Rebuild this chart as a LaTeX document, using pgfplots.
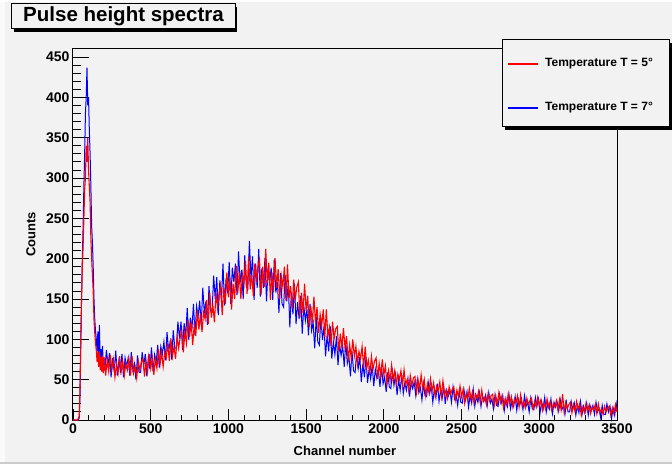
\documentclass[border=0pt]{standalone}
\usepackage{fontspec}
\setmainfont{Liberation Sans}
\usepackage{pgfplots}
\pgfplotsset{compat=1.18}
\definecolor{bg}{RGB}{242,242,242}
\definecolor{rootred}{RGB}{255,0,0}
\definecolor{rootblue}{RGB}{0,0,255}
\begin{document}
\begin{tikzpicture}[x=1pt,y=1pt]
\useasboundingbox (-73,-44) rectangle (599,420);
\fill[bg] (-73,-44) rectangle (599,420);
% canvas bevel
\fill[white!60!bg] (-73,-44) rectangle (-68,420);
\fill[white] (-73,418) rectangle (599,420);
\fill[black!20] (-73,-44) rectangle (599,-42);
% title box
\fill[black] (-59,388) rectangle (164,413);
\filldraw[fill=bg,draw=black,line width=1pt] (-61,391) rectangle (162,416);
\node[font=\fontsize{20.5}{24}\selectfont\bfseries] at (50.5,403.5) {Pulse height spectra};
\begin{axis}[
  at={(0,0)}, anchor=south west,
  scale only axis, width=544pt, height=371pt,
  xmin=0, xmax=3500, ymin=0, ymax=460,
  clip=false,
  xtick={0,500,...,3500}, ytick={0,50,...,450},
  minor x tick num=4, minor y tick num=4,
  tick align=inside, tick pos=left,
  xtick style={black, line width=0.9pt, /pgfplots/major tick length=11pt, /pgfplots/minor tick length=5.5pt},
  ytick style={black, line width=0.9pt, /pgfplots/major tick length=16pt, /pgfplots/minor tick length=8pt},
  axis line style={black, line width=1pt},
  /pgf/number format/assume math mode=true,
  /pgf/number format/1000 sep={},
  tick label style={font=\fontsize{14}{16}\selectfont\bfseries},
  xlabel={Channel number}, ylabel={Counts},
  every axis x label/.style={at={(axis description cs:0.5,-0.0836)}, anchor=center, font=\fontsize{13}{15}\selectfont\bfseries},
  every axis y label/.style={at={(axis description cs:-0.0772,0.5)}, anchor=center, rotate=90, font=\fontsize{13}{15}\selectfont\bfseries},
]
\addplot[rootblue, line width=1pt] coordinates {
(0,0) (10,0) (20,0) (30,0) (40,2) (45,30) (50,90) (55,150) (60,200) (65,240) (70,290) (75,330) (80,380) (85,400) (90,437) (95,390) (100,400) (105,360) (110,330) (115,290) (120,240) (125,220) (130,190) (135,150) (140,125) (145,110) (150,100) (155,85) (160,110) (165,78) (170,118) (175,72) (180,88) (185,70) (190,92) (195,66)
(205,62) (215,87) (225,68) (235,83) (245,53) (255,77) (265,60) (275,86) (285,55) (295,73)
(305,61) (315,82) (325,53) (335,77) (345,66) (355,77) (365,55) (375,84) (385,62) (395,70)
(405,50) (415,80) (425,59) (435,59) (445,84) (455,67) (465,82) (475,54) (485,78) (495,63)
(505,90) (515,60) (525,81) (535,71) (545,93) (555,65) (565,91) (575,82) (585,97) (595,74)
(605,109) (615,85) (625,97) (635,75) (645,111) (655,89) (665,89) (675,122) (685,101) (695,122)
(705,87) (715,120) (725,103) (735,139) (745,99) (755,127) (765,112) (775,144) (785,105) (795,141)
(805,128) (815,148) (825,118) (835,164) (845,132) (855,147) (865,118) (875,166) (885,135) (895,135)
(905,179) (915,150) (925,177) (935,130) (945,173) (955,148) (965,194) (975,142) (985,176) (995,157)
(1005,196) (1015,144) (1025,189) (1035,171) (1045,194) (1055,155) (1065,209) (1075,170) (1085,186) (1095,150)
(1105,204) (1115,166) (1125,163) (1135,222) (1145,175) (1155,203) (1165,149) (1175,194) (1185,164) (1195,212)
(1205,153) (1215,188) (1225,164) (1235,201) (1245,147) (1255,189) (1265,169) (1275,189) (1285,149) (1295,199)
(1305,158) (1315,171) (1325,133) (1335,182) (1345,144) (1355,140) (1365,180) (1375,147) (1385,170) (1395,115)
(1405,158) (1415,131) (1425,169) (1435,119) (1445,146) (1455,125) (1465,154) (1475,107) (1485,142) (1495,123)
(1505,138) (1515,105) (1525,144) (1535,111) (1545,121) (1555,89) (1565,128) (1575,97) (1585,93) (1595,127)
(1605,99) (1615,116) (1625,79) (1635,106) (1645,85) (1655,116) (1665,76) (1675,97) (1685,81) (1695,104)
(1705,68) (1715,94) (1725,80) (1735,92) (1745,66) (1755,97) (1765,70) (1775,79) (1785,54) (1795,85)
(1805,61) (1815,59) (1825,83) (1835,64) (1845,78) (1855,47) (1865,70) (1875,53) (1885,78) (1895,46)
(1905,63) (1915,51) (1925,68) (1935,42) (1945,63) (1955,52) (1965,62) (1975,41) (1985,66) (1995,45)
(2005,53) (2015,35) (2025,59) (2035,41) (2045,39) (2055,60) (2065,43) (2075,56) (2085,31) (2095,50)
(2105,37) (2115,56) (2125,33) (2135,46) (2145,37) (2155,51) (2165,29) (2175,47) (2185,39) (2195,47)
(2205,31) (2215,50) (2225,34) (2235,40) (2245,25) (2255,45) (2265,30) (2275,29) (2285,47) (2295,33)
(2305,43) (2315,22) (2325,39) (2335,28) (2345,45) (2355,23) (2365,37) (2375,27) (2385,42) (2395,20)
(2405,37) (2415,30) (2425,37) (2435,22) (2445,41) (2455,26) (2465,31) (2475,18) (2485,36) (2495,22)
(2505,21) (2515,38) (2525,25) (2535,35) (2545,16) (2555,31) (2565,21) (2575,38) (2585,17) (2595,29)
(2605,22) (2615,34) (2625,17) (2635,30) (2645,24) (2655,31) (2665,18) (2675,34) (2685,21) (2695,26)
(2705,14) (2715,31) (2725,18) (2735,17) (2745,32) (2755,21) (2765,30) (2775,12) (2785,26) (2795,17)
(2805,32) (2815,14) (2825,24) (2835,17) (2845,29) (2855,12) (2865,26) (2875,19) (2885,26) (2895,13)
(2905,30) (2915,17) (2925,22) (2935,10) (2945,27) (2955,14) (2965,13) (2975,28) (2985,17) (2995,26)
(3005,9) (3015,23) (3025,14) (3035,28) (3045,10) (3055,21) (3065,14) (3075,26) (3085,8) (3095,22)
(3105,16) (3115,22) (3125,11) (3135,25) (3145,13) (3155,18) (3165,7) (3175,22) (3185,10) (3195,10)
(3205,23) (3215,13) (3225,21) (3235,6) (3245,18) (3255,9) (3265,23) (3275,7) (3285,17) (3295,10)
(3305,21) (3315,6) (3325,19) (3335,12) (3345,18) (3355,7) (3365,22) (3375,10) (3385,14) (3395,3)
(3405,18) (3415,7) (3425,7) (3435,20) (3445,10) (3455,17) (3465,2) (3475,15) (3485,6) (3495,20) (3500,12)
};

\addplot[rootred, line width=1.1pt] coordinates {
(0,0) (10,0) (20,0) (30,0) (40,5) (45,40) (50,100) (55,150) (60,190) (65,215) (70,250) (75,285) (80,300) (85,340) (90,320) (95,350) (100,310) (105,290) (110,270) (115,225) (120,200) (125,180) (130,160) (135,125) (140,108) (145,95) (150,86) (155,72) (160,84) (165,66) (170,85) (175,62) (180,78) (185,60) (190,80) (195,58)
(200,78) (210,55) (220,74) (230,60) (240,81) (250,63) (260,75) (270,53) (280,69) (290,58)
(300,79) (310,60) (320,73) (330,55) (340,70) (350,62) (360,76) (370,55) (380,79) (390,58)
(400,66) (410,52) (420,73) (430,62) (440,72) (450,76) (460,54) (470,73) (480,60) (490,82)
(500,64) (510,77) (520,56) (530,75) (540,64) (550,88) (560,69) (570,84) (580,66) (590,84)
(600,77) (610,95) (620,73) (630,101) (640,79) (650,91) (660,76) (670,103) (680,89) (690,103)
(700,111) (710,84) (720,109) (730,95) (740,124) (750,103) (760,121) (770,93) (780,118) (790,104)
(800,136) (810,112) (820,132) (830,109) (840,133) (850,125) (860,149) (870,119) (880,158) (890,127)
(900,142) (910,121) (920,158) (930,139) (940,157) (950,167) (960,130) (970,164) (980,144) (990,183)
(1000,152) (1010,176) (1020,137) (1030,169) (1040,150) (1050,191) (1060,157) (1070,183) (1080,150) (1090,181)
(1100,169) (1110,197) (1120,156) (1130,203) (1140,162) (1150,180) (1160,154) (1170,194) (1180,171) (1190,190)
(1200,199) (1210,155) (1220,190) (1230,165) (1240,212) (1250,170) (1260,195) (1270,149) (1280,183) (1290,159)
(1300,201) (1310,164) (1320,187) (1330,150) (1340,179) (1350,165) (1360,190) (1370,148) (1380,193) (1390,151)
(1400,166) (1410,138) (1420,174) (1430,149) (1440,165) (1450,171) (1460,127) (1470,158) (1480,133) (1490,169)
(1500,135) (1510,154) (1520,115) (1530,141) (1540,120) (1550,153) (1560,121) (1570,140) (1580,108) (1590,131)
(1600,117) (1610,137) (1620,103) (1630,137) (1640,103) (1650,115) (1660,92) (1670,122) (1680,101) (1690,113)
(1700,116) (1710,85) (1720,107) (1730,89) (1740,114) (1750,90) (1760,104) (1770,73) (1780,93) (1790,77)
(1800,100) (1810,79) (1820,91) (1830,69) (1840,85) (1850,76) (1860,91) (1870,65) (1880,91) (1890,65)
(1900,74) (1910,57) (1920,79) (1930,63) (1940,73) (1950,77) (1960,51) (1970,70) (1980,55) (1990,75)
(2000,56) (2010,67) (2020,45) (2030,61) (2040,49) (2050,68) (2060,50) (2070,61) (2080,44) (2090,57)
(2100,50) (2110,61) (2120,43) (2130,62) (2140,44) (2150,50) (2160,37) (2170,55) (2180,43) (2190,52)
(2200,54) (2210,34) (2220,50) (2230,38) (2240,56) (2250,39) (2260,50) (2270,30) (2280,44) (2290,34)
(2300,51) (2310,36) (2320,46) (2330,30) (2340,42) (2350,36) (2360,47) (2370,29) (2380,48) (2390,30)
(2400,37) (2410,27) (2420,41) (2430,32) (2440,38) (2450,41) (2460,25) (2470,37) (2480,28) (2490,42)
(2500,29) (2510,38) (2520,21) (2530,33) (2540,25) (2550,39) (2560,26) (2570,35) (2580,21) (2590,32)
(2600,27) (2610,36) (2620,22) (2630,37) (2640,23) (2650,28) (2660,19) (2670,32) (2680,24) (2690,30)
(2700,32) (2710,18) (2720,30) (2730,20) (2740,34) (2750,22) (2760,30) (2770,15) (2780,26) (2790,19)
(2800,32) (2810,20) (2820,29) (2830,16) (2840,26) (2850,21) (2860,30) (2870,16) (2880,31) (2890,17)
(2900,23) (2910,15) (2920,27) (2930,19) (2940,24) (2950,27) (2960,14) (2970,23) (2980,16) (2990,28)
(3000,18) (3010,25) (3020,12) (3030,21) (3040,14) (3050,26) (3060,16) (3070,23) (3080,12) (3090,20)
(3100,16) (3110,24) (3120,12) (3130,25) (3140,13) (3150,32) (3160,10) (3170,22) (3180,14) (3190,19)
(3200,22) (3210,9) (3220,19) (3230,11) (3240,23) (3250,13) (3260,20) (3270,6) (3280,16) (3290,9)
(3300,20) (3310,11) (3320,18) (3330,8) (3340,16) (3350,12) (3360,19) (3370,8) (3380,20) (3390,9)
(3400,14) (3410,7) (3420,17) (3430,10) (3440,15) (3450,17) (3460,6) (3470,15) (3480,8) (3490,19) (3500,10)
};
\end{axis}
% legend box with shadow, drawn over the frame
\fill[black] (432,290) rectangle (599,377);
\filldraw[fill=bg,draw=black,line width=1pt] (429,293) rectangle (596,380);
\fill[red] (435,355.3) rectangle (465,356.7);
\node[anchor=west, inner sep=0pt, font=\fontsize{12}{14}\selectfont\bfseries] at (472,356) {Temperature T = 5°};
\fill[blue] (435,311.3) rectangle (465,312.7);
\node[anchor=west, inner sep=0pt, font=\fontsize{12}{14}\selectfont\bfseries] at (472,312) {Temperature T = 7°};
\end{tikzpicture}
\end{document}
